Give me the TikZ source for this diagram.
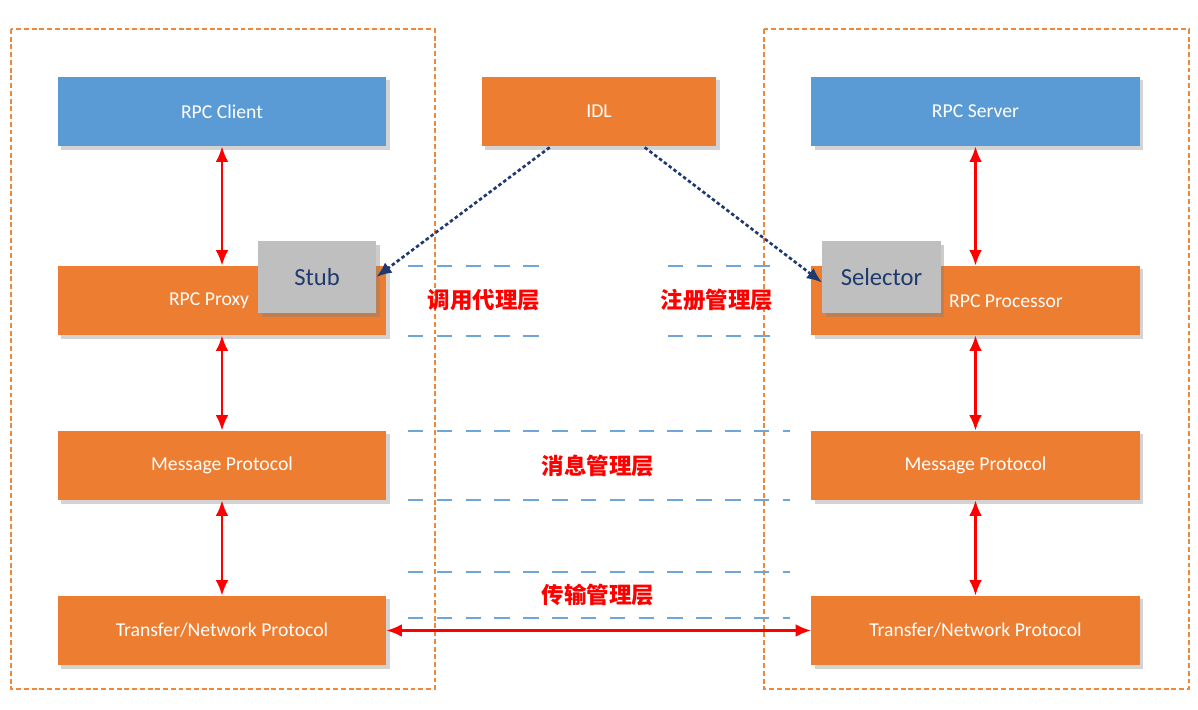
\documentclass[tikz,border=0pt]{standalone}
\usepackage{fontspec}
\setmainfont{Carlito}
\newfontfamily\cjk{Noto Sans CJK SC}
\usetikzlibrary{arrows.meta,shadows}
\definecolor{boxblue}{HTML}{5B9BD5}
\definecolor{boxorange}{HTML}{ED7D31}
\definecolor{stubgray}{HTML}{BFBFBF}
\definecolor{framecol}{HTML}{F0883A}
\definecolor{layerblue}{HTML}{6FA6DA}
\definecolor{idlnavy}{HTML}{1F3A6E}
\tikzset{
	blockbox/.style={fill=#1, minimum width=8.2cm, minimum height=1.73cm, inner sep=0pt,
		text=white, font=\fontsize{14}{16}\selectfont,
		drop shadow={shadow xshift=2.5pt, shadow yshift=-2.5pt, opacity=0.35}},
	graybox/.style={fill=stubgray, minimum width=2.95cm, minimum height=1.8cm, inner sep=0pt,
		text=idlnavy, font=\fontsize{17.5}{20}\selectfont,
		drop shadow={shadow xshift=2.5pt, shadow yshift=-2.5pt, opacity=0.4}},
	boxtext/.style={text=white, font=\fontsize{14}{16}\selectfont},
	layertext/.style={text=red, font=\cjk\bfseries\fontsize{16}{19}\selectfont},
	frame/.style={draw=framecol, line width=1.9pt, dash pattern=on 3.5pt off 2pt},
	layerline/.style={draw=layerblue, line width=2pt, dash pattern=on 11pt off 9.5pt},
	callarrow/.style={draw=red, line width=1.7pt, {Latex[length=11pt,width=9pt]}-{Latex[length=11pt,width=9pt]}},
	idlarrow/.style={draw=idlnavy, line width=1.9pt, dash pattern=on 2.5pt off 1.8pt, -{Latex[length=11pt,width=9pt]}}
}
\begin{document}
\begin{tikzpicture}[x=0.025cm, y=-0.025cm]
	\useasboundingbox (0,0) rectangle (1198,710);

	% client and server frames
	\draw[frame] (11,29) rectangle (435,689);
	\draw[frame] (764,29) rectangle (1189,689);

	% layer separators
	\foreach \y in {266, 336} {
		\draw[layerline] (408,\y) -- (548,\y);
		\draw[layerline] (668,\y) -- (780,\y);
	}
	\foreach \y in {431, 500, 572, 618} \draw[layerline] (408,\y) -- (790,\y);

	% client side
	\node[blockbox=boxblue] (client) at (222,111.5) {RPC Client};
	\node[blockbox=boxorange] (proxy) at (222,300.5) {};
	\node[boxtext] (proxytext) at (209,301) {RPC Proxy};
	\node[graybox] (stub) at (317,277) {Stub};
	\node[blockbox=boxorange] (cmsg) at (222,465.5) {Message Protocol};
	\node[blockbox=boxorange] (cnet) at (222,630.5) {Transfer/Network Protocol};

	% idl
	\node[blockbox=boxorange, minimum width=5.85cm] (idl) at (599,111.5) {IDL};

	% server side
	\node[blockbox=boxblue] (server) at (975.5,111.5) {RPC Server};
	\node[blockbox=boxorange] (processor) at (975.5,300.5) {};
	\node[boxtext] (proctext) at (1006,301) {RPC Processor};
	\node[graybox] (selector) at (881.5,277) {Selector};
	\node[blockbox=boxorange] (smsg) at (975.5,465.5) {Message Protocol};
	\node[blockbox=boxorange] (snet) at (975.5,630.5) {Transfer/Network Protocol};

	% layer names
	\node[layertext] (proxylayer) at (484,300) {调用代理层};
	\node[layertext] (reglayer) at (717,300) {注册管理层};
	\node[layertext] (msglayer) at (598,466) {消息管理层};
	\node[layertext] (netlayer) at (598,595) {传输管理层};

	% calls
	\draw[callarrow] (client) -- (proxy);
	\draw[callarrow] (proxy) -- (cmsg);
	\draw[callarrow] (cmsg) -- (cnet);
	\draw[callarrow] (server) -- (processor);
	\draw[callarrow] (processor) -- (smsg);
	\draw[callarrow] (smsg) -- (snet);
	\draw[callarrow] (cnet) -- (snet);

	% generated code
	\draw[idlarrow] (idl.south west) ++(68,1) coordinate (idlleft) (idlleft) -- (stub.east);
	\draw[idlarrow] (idl.south west) ++(163,1) coordinate (idlright) (idlright) -- ([yshift=-4]selector.west);
\end{tikzpicture}
\end{document}
